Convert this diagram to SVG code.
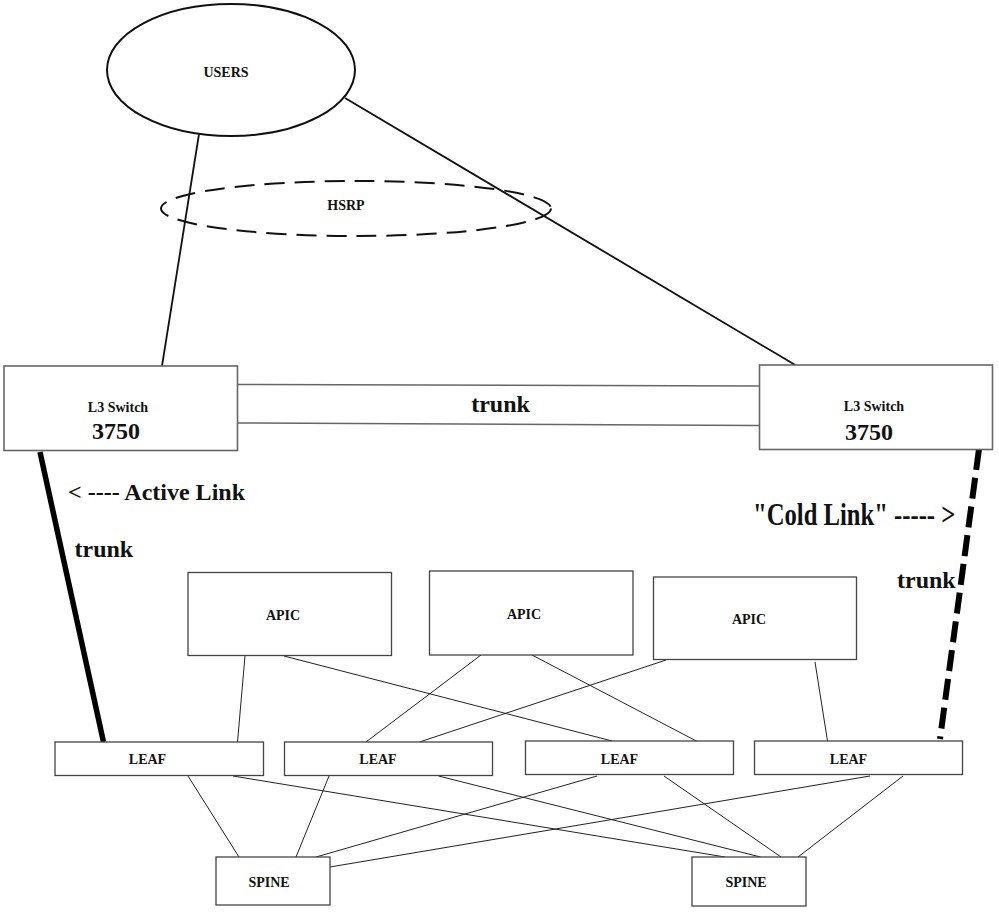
<svg xmlns="http://www.w3.org/2000/svg" width="999" height="921" viewBox="0 0 999 921">
<style>
  text { font-family: "Liberation Serif", "Times New Roman", serif; font-weight: bold; fill: #111; }
  .box { fill: #fff; stroke: #444; stroke-width: 1.3; }
  .l3 { fill: #fff; stroke: #666; stroke-width: 1.6; }
  .ell { fill: none; stroke: #111; stroke-width: 2; }
  .thin { stroke: #222; stroke-width: 1; fill: none; }
  .wire { stroke: #111; stroke-width: 1.8; fill: none; }
  .trk { stroke: #666; stroke-width: 1.5; fill: none; }
  .s14 { font-size: 14px; }
  .s24 { font-size: 24px; }
</style>
<rect width="999" height="921" fill="#fff"/>

<g id="connectors">
  <line class="wire" x1="199" y1="134" x2="162" y2="366"/>
  <line class="wire" x1="345" y1="98" x2="797" y2="366"/>
  <line class="trk" x1="238" y1="384.5" x2="759" y2="386"/>
  <line class="trk" x1="238" y1="423" x2="759" y2="425.5"/>
  <line x1="40" y1="452" x2="103.5" y2="742" stroke="#000" stroke-width="5.5"/>
  <line x1="979" y1="449" x2="940" y2="739" stroke="#000" stroke-width="6" stroke-dasharray="21 8"/>
  <line class="thin" x1="245" y1="656" x2="237.5" y2="742"/>
  <line class="thin" x1="284" y1="656" x2="612" y2="741"/>
  <line class="thin" x1="481" y1="655" x2="366" y2="742"/>
  <line class="thin" x1="532" y1="655" x2="704" y2="745"/>
  <line class="thin" x1="666" y1="660" x2="419.5" y2="742"/>
  <line class="thin" x1="815" y1="662" x2="827.5" y2="741"/>
  <line class="thin" x1="188" y1="776" x2="239" y2="857"/>
  <line class="thin" x1="233" y1="776" x2="725" y2="857"/>
  <line class="thin" x1="329" y1="776" x2="296" y2="857"/>
  <line class="thin" x1="438.5" y1="776" x2="760.5" y2="857"/>
  <line class="thin" x1="597" y1="776" x2="316" y2="857"/>
  <line class="thin" x1="664" y1="776" x2="781" y2="857"/>
  <line class="thin" x1="870" y1="776" x2="330" y2="867"/>
  <line class="thin" x1="903" y1="776" x2="798" y2="857"/>
</g>

<g id="users">
  <ellipse class="ell" cx="231" cy="70" rx="124" ry="66"/>
  <text class="s14" x="226" y="77" text-anchor="middle">USERS</text>
</g>

<g id="hsrp">
  <ellipse class="ell" cx="356" cy="208.5" rx="195" ry="27.5" stroke-dasharray="20 10"/>
  <text class="s14" x="346" y="210" text-anchor="middle">HSRP</text>
</g>

<g id="l3-left">
  <rect class="l3" x="4" y="366" width="233.5" height="84.5"/>
  <text class="s14" x="118" y="412" text-anchor="middle">L3 Switch</text>
  <text class="s24" x="116" y="439" text-anchor="middle">3750</text>
</g>

<g id="l3-right">
  <rect class="l3" x="759.5" y="365" width="233" height="84.5"/>
  <text class="s14" x="874" y="411" text-anchor="middle">L3 Switch</text>
  <text class="s24" x="869" y="440" text-anchor="middle">3750</text>
</g>

<g id="labels">
  <text class="s24" x="500.5" y="412" text-anchor="middle">trunk</text>
  <text class="s24" x="68" y="500">&lt; ---- Active Link</text>
  <text class="s24" x="74.5" y="556.5">trunk</text>
  <text x="0" y="0" font-size="31" transform="translate(753 525) scale(0.795 1)">"Cold Link" ----- &gt;</text>
  <text class="s24" x="897" y="588">trunk</text>
</g>

<g id="apic1">
  <rect class="box" x="188" y="572.5" width="203.5" height="83"/>
  <text class="s14" x="283" y="620" text-anchor="middle">APIC</text>
</g>
<g id="apic2">
  <rect class="box" x="429.5" y="571" width="203.5" height="84"/>
  <text class="s14" x="524" y="619" text-anchor="middle">APIC</text>
</g>
<g id="apic3">
  <rect class="box" x="653.5" y="577" width="203" height="82.5"/>
  <text class="s14" x="749" y="624" text-anchor="middle">APIC</text>
</g>

<g id="leaf1">
  <rect class="box" x="55" y="742" width="208.5" height="33.5"/>
  <text class="s14" x="147.5" y="764" text-anchor="middle">LEAF</text>
</g>
<g id="leaf2">
  <rect class="box" x="284.5" y="742" width="208" height="33.5"/>
  <text class="s14" x="378" y="764" text-anchor="middle">LEAF</text>
</g>
<g id="leaf3">
  <rect class="box" x="525.5" y="741" width="208" height="33.5"/>
  <text class="s14" x="619.5" y="764" text-anchor="middle">LEAF</text>
</g>
<g id="leaf4">
  <rect class="box" x="754.5" y="741" width="208" height="33.5"/>
  <text class="s14" x="848.5" y="764" text-anchor="middle">LEAF</text>
</g>

<g id="spine1">
  <rect class="box" x="216" y="857" width="114" height="48"/>
  <text class="s14" x="269" y="887" text-anchor="middle">SPINE</text>
</g>
<g id="spine2">
  <rect class="box" x="692" y="857" width="114" height="49"/>
  <text class="s14" x="746" y="887" text-anchor="middle">SPINE</text>
</g>
</svg>
